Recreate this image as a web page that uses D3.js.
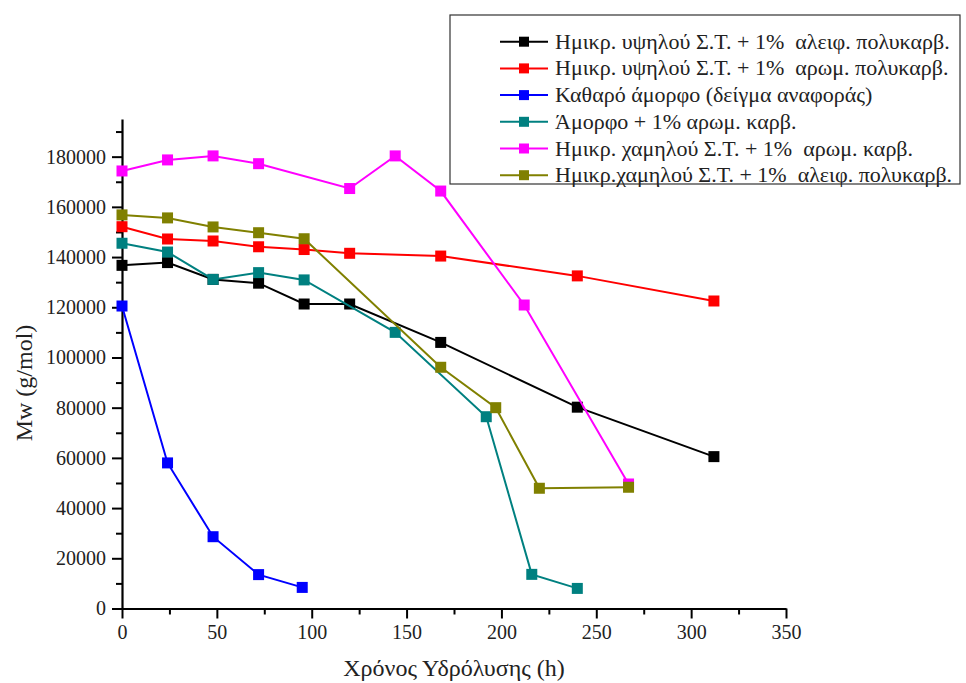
<!DOCTYPE html>
<html>
<head>
<meta charset="utf-8">
<script src="https://cdn.jsdelivr.net/npm/d3@7"></script>
<style>
  body { margin: 0; background: #fff; }
  svg text { font-family: "Liberation Serif", "Times New Roman", serif !important; }
</style>
</head>
<body>
<script>
(function(){

//series names (legend order)
var names = [
  "Ημικρ. υψηλού Σ.Τ. + 1%  αλειφ. πολυκαρβ.",
  "Ημικρ. υψηλού Σ.Τ. + 1%  αρωμ. πολυκαρβ.",
  "Καθαρό άμορφο (δείγμα αναφοράς)",
  "Άμορφο + 1% αρωμ. καρβ.",
  "Ημικρ. χαμηλού Σ.Τ. + 1%  αρωμ. καρβ.",
  "Ημικρ.χαμηλού Σ.Τ. + 1%  αλειφ. πολυκαρβ."
];
var colors = ["#000000", "#ff0000", "#0000ff", "#008080", "#ff00ff", "#808000"];

//hydrolysis time (h) and Mw (g/mol) per series
var blackX   = [0, 24, 48, 72, 96, 120, 168, 240, 312];
var blackY   = [136700, 137800, 131100, 129600, 121300, 121300, 106000, 80200, 60500];
var redX     = [0, 24, 48, 72, 96, 120, 168, 240, 312];
var redY     = [152100, 147200, 146400, 144100, 143000, 141500, 140400, 132500, 122500];
var blueX    = [0, 24, 48, 72, 95];
var blueY    = [120500, 58000, 28600, 13500, 8400];
var tealX    = [0, 24, 48, 72, 96, 144, 192, 216, 240];
var tealY    = [145500, 142000, 131100, 133800, 130900, 110000, 76400, 13600, 8000];
var magentaX = [0, 24, 48, 72, 120, 144, 168, 212, 267];
var magentaY = [174300, 178700, 180300, 177200, 167300, 180300, 166300, 120900, 49600];
var oliveX   = [0, 24, 48, 72, 96, 168, 197, 220, 267];
var oliveY   = [156800, 155600, 152000, 149700, 147300, 96100, 80000, 47900, 48300];

var xTicks = [0, 50, 100, 150, 200, 250, 300, 350];
var yTicks = [0, 20000, 40000, 60000, 80000, 100000, 120000, 140000, 160000, 180000];

var seriesX = [blackX, redX, blueX, tealX, magentaX, oliveX];
var seriesY = [blackY, redY, blueY, tealY, magentaY, oliveY];

var width = 966, height = 683;
var left = 122, right = 786, top = 119, bottom = 608.5;

var svg = d3.select("body").append("svg")
    .attr("width", width)
    .attr("height", height);

var x = d3.scaleLinear().domain([0, 350]).range([left, right]);
var y = d3.scaleLinear().domain([0, 195000]).range([bottom, top]);

//minor ticks
svg.append("g")
    .attr("transform", "translate(0," + bottom + ")")
    .call(d3.axisBottom(x).tickValues(d3.range(25, 350, 50)).tickSize(6).tickFormat(""))
    .call(function(g){ g.select(".domain").remove(); })
    .selectAll("line").attr("stroke-width", 2);
svg.append("g")
    .attr("transform", "translate(" + left + ",0)")
    .call(d3.axisLeft(y).tickValues(d3.range(10000, 195000, 20000)).tickSize(6).tickFormat(""))
    .call(function(g){ g.select(".domain").remove(); })
    .selectAll("line").attr("stroke-width", 2);

//major axes
var xAxis = svg.append("g")
    .attr("transform", "translate(0," + bottom + ")")
    .call(d3.axisBottom(x).tickValues(xTicks).tickSize(10).tickSizeOuter(0).tickPadding(6));
var yAxis = svg.append("g")
    .attr("transform", "translate(" + left + ",0)")
    .call(d3.axisLeft(y).tickValues(yTicks).tickSize(10).tickSizeOuter(0).tickPadding(6).tickFormat(d3.format("d")));

[xAxis, yAxis].forEach(function(a){
  a.select(".domain").attr("stroke-width", 2.2);
  a.selectAll("line").attr("stroke-width", 2);
  a.selectAll("text")
      .attr("font-size", 20)
      .attr("fill", "#222");
});

//axis titles
svg.append("text")
    .attr("x", 454).attr("y", 676)
    .attr("text-anchor", "middle")
    .attr("font-size", 24)
    .attr("fill", "#222")
    .text("Χρόνος Υδρόλυσης (h)");
svg.append("text")
    .attr("transform", "translate(32,383) rotate(-90)")
    .attr("text-anchor", "middle")
    .attr("font-size", 24)
    .attr("fill", "#222")
    .text("Mw (g/mol)");

var line = d3.line()
    .x(function(d){ return x(d[0]); })
    .y(function(d){ return y(d[1]); });

var ms = 11; //marker size

names.forEach(function(name, i){
  var pts = seriesX[i].map(function(v, j){ return [v, seriesY[i][j]]; });
  var g = svg.append("g").attr("class", "series");
  g.append("path")
      .datum(pts)
      .attr("fill", "none")
      .attr("stroke", colors[i])
      .attr("stroke-width", 2)
      .attr("d", line);
  g.selectAll("rect")
      .data(pts)
      .enter()
      .append("rect")
      .attr("x", function(d){ return x(d[0]) - ms / 2; })
      .attr("y", function(d){ return y(d[1]) - ms / 2; })
      .attr("width", ms)
      .attr("height", ms)
      .attr("fill", colors[i]);
});

//legend
var legend = svg.append("g");
legend.append("rect")
    .attr("x", 450).attr("y", 15)
    .attr("width", 510).attr("height", 169)
    .attr("fill", "#fff")
    .attr("stroke", "#333")
    .attr("stroke-width", 1.2);

names.forEach(function(name, i){
  var ly = 41.7 + i * 26.7;
  legend.append("line")
      .attr("x1", 500).attr("x2", 548)
      .attr("y1", ly).attr("y2", ly)
      .attr("stroke", colors[i])
      .attr("stroke-width", 2);
  legend.append("rect")
      .attr("x", 524 - 5).attr("y", ly - 5)
      .attr("width", 10).attr("height", 10)
      .attr("fill", colors[i]);
  legend.append("text")
      .attr("x", 555).attr("y", ly + 7)
      .attr("font-size", 22)
      .attr("fill", "#222")
      .style("white-space", "pre")
      .text(name);
});

})();
</script>
</body>
</html>
